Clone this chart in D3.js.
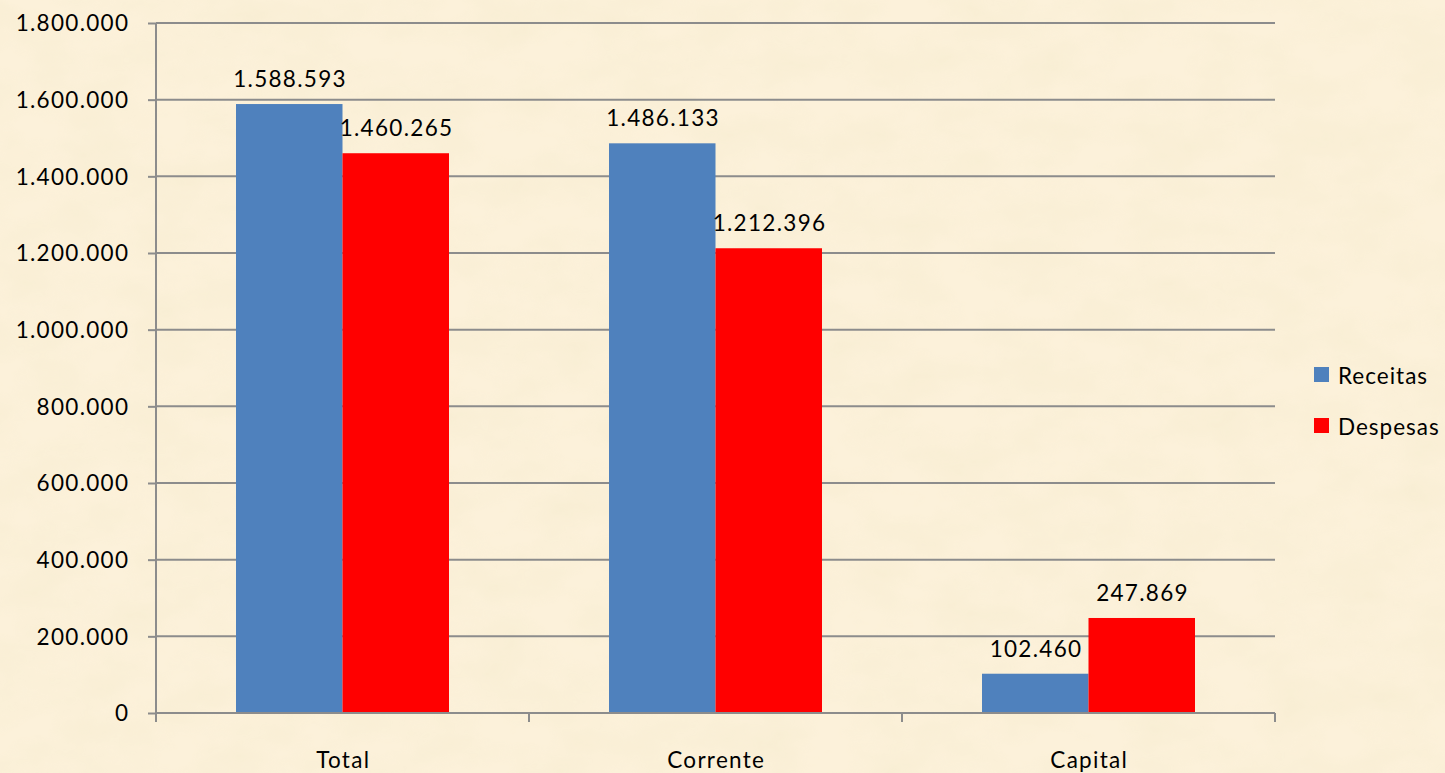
<!DOCTYPE html>
<html><head><meta charset="utf-8">
<script src="https://cdn.jsdelivr.net/npm/d3@7"></script>
<style>html,body{margin:0;padding:0;background:#fbefd6;}svg{display:block;}</style>
</head><body>
<script>
const categories = ["Total", "Corrente", "Capital"];
const seriesNames = ["Receitas", "Despesas"];
const receitas = [1588593, 1486133, 102460];
const despesas = [1460265, 1212396, 247869];
const yTicks = [0, 200000, 400000, 600000, 800000, 1000000, 1200000, 1400000, 1600000, 1800000];
const colors = ["#4f81bd", "#ff0000"];

const W = 1445, H = 773;
const m = {left: 156, right: 170, top: 23, bottom: 60};
const fmt = v => d3.format(",")(v).replace(/,/g, ".");
const font = "Lato, 'Open Sans', sans-serif";

const svg = d3.select("body").append("svg").attr("width", W).attr("height", H);

// parchment background
const defs = svg.append("defs");
const f = defs.append("filter").attr("id","tex").attr("x",0).attr("y",0).attr("width","100%").attr("height","100%");
f.append("feTurbulence").attr("type","fractalNoise").attr("baseFrequency","0.015 0.025").attr("numOctaves",4).attr("seed",7).attr("result","n");
f.append("feColorMatrix").attr("in","n").attr("type","matrix")
  .attr("values","0 0 0 0 0.90  0 0 0 0 0.82  0 0 0 0 0.60  0 0 0 -1.4 0.95");
f.append("feComposite").attr("in2","SourceGraphic").attr("operator","in");
svg.append("rect").attr("width",W).attr("height",H).attr("fill","#fcf1da");
svg.append("rect").attr("width",W).attr("height",H).attr("fill","#fcf1da").attr("filter","url(#tex)").attr("opacity",0.5);

const x0 = d3.scaleBand().domain(categories).range([m.left, W - m.right]).paddingInner(0).paddingOuter(0);
const groupFrac = 213 / 373;
const x1 = d3.scaleBand().domain(seriesNames).range([0, x0.bandwidth() * groupFrac]);
const y = d3.scaleLinear().domain([0, 1800000]).range([H - m.bottom, m.top]);

const gridColor = "#8c8c8c";
// gridlines
svg.append("g").selectAll("line").data(yTicks.filter(d => d > 0)).join("line")
  .attr("x1", m.left).attr("x2", W - m.right)
  .attr("y1", d => y(d)).attr("y2", d => y(d))
  .attr("stroke", gridColor).attr("stroke-width", 2);

// bars
const data = categories.map((c, i) => ({cat: c, vals: [receitas[i], despesas[i]]}));
const groups = svg.append("g").selectAll("g").data(data).join("g")
  .attr("transform", d => `translate(${x0(d.cat) + x0.bandwidth() * (1 - groupFrac) / 2},0)`);
groups.selectAll("rect").data(d => d.vals.map((v, j) => ({v, s: seriesNames[j], j}))).join("rect")
  .attr("x", d => x1(d.s)).attr("width", x1.bandwidth())
  .attr("y", d => y(d.v)).attr("height", d => y(0) - y(d.v))
  .attr("fill", d => colors[d.j]);
groups.selectAll("text").data(d => d.vals.map((v, j) => ({v, s: seriesNames[j], j}))).join("text")
  .attr("x", d => x1(d.s) + x1.bandwidth() / 2 + 0.75)
  .attr("y", d => y(d.v) - 17)
  .attr("text-anchor", "middle")
  .attr("font-family", font).attr("font-size", 22.5).attr("letter-spacing", 1.3)
  .attr("fill", "#000").text(d => fmt(d.v));

// y axis
const yAxis = svg.append("g").attr("transform", `translate(${m.left},0)`)
  .call(d3.axisLeft(y).tickValues(yTicks).tickFormat(fmt).tickSize(8).tickPadding(20));
yAxis.select(".domain").attr("stroke", gridColor).attr("stroke-width", 2).attr("d", `M0,${y(0)+4}V${y(1800000)}`);
yAxis.selectAll(".tick line").attr("stroke", gridColor).attr("stroke-width", 2);
yAxis.selectAll(".tick text").attr("font-family", font).attr("font-size", 22.5).attr("letter-spacing", 1.3)
  .attr("fill", "#000").attr("dy", "0.35em").attr("dx", 1.3);

// x axis
const xg = svg.append("g");
xg.append("line").attr("x1", m.left).attr("x2", W - m.right).attr("y1", y(0)).attr("y2", y(0))
  .attr("stroke", gridColor).attr("stroke-width", 2);
const bounds = categories.map(c => x0(c)).concat([x0(categories[categories.length-1]) + x0.bandwidth()]);
xg.selectAll("line.t").data(bounds).join("line").attr("class","t")
  .attr("x1", d => d).attr("x2", d => d).attr("y1", y(0)).attr("y2", y(0) + 9)
  .attr("stroke", gridColor).attr("stroke-width", 2);
xg.selectAll("text").data(categories).join("text")
  .attr("x", d => x0(d) + x0.bandwidth() / 2 + 0.75).attr("y", 768)
  .attr("text-anchor", "middle").attr("font-family", font).attr("font-size", 22.5).attr("letter-spacing", 1.3)
  .attr("fill", "#000").text(d => d);

// legend
const lg = svg.append("g").attr("transform", "translate(1314,367)");
const li = lg.selectAll("g").data(seriesNames).join("g").attr("transform", (d, i) => `translate(0,${i * 51})`);
li.append("rect").attr("width", 15).attr("height", 15).attr("fill", (d, i) => colors[i]);
li.append("text").attr("x", 24).attr("y", 17).attr("font-family", font).attr("font-size", 22.5).attr("letter-spacing", 1.0)
  .attr("fill", "#000").text(d => d);
</script>
</body></html>
